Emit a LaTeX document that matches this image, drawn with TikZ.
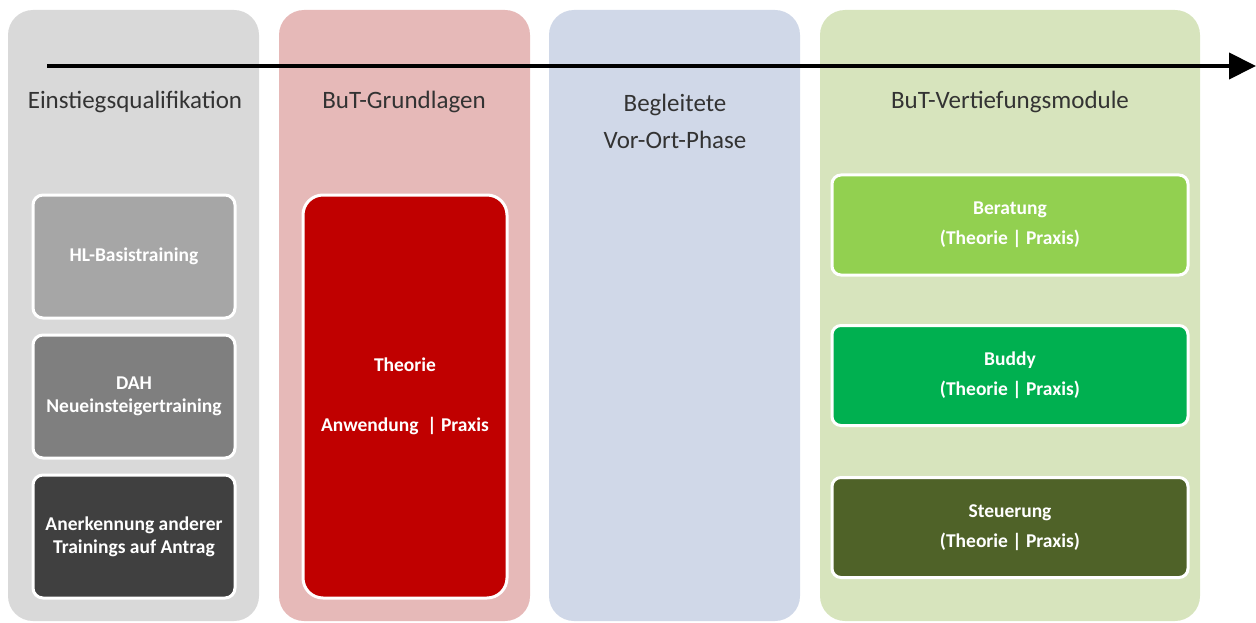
\documentclass[tikz,border=0pt]{standalone}
\usepackage{fontspec}
\setmainfont{Carlito}
\usepackage{tikz}
\usetikzlibrary{arrows.meta}

\definecolor{grauhell}{HTML}{D9D9D9}
\definecolor{rothell}{HTML}{E6B9B8}
\definecolor{blauhell}{HTML}{D0D8E8}
\definecolor{gruenhell}{HTML}{D7E4BD}
\definecolor{grau1}{HTML}{A6A6A6}
\definecolor{grau2}{HTML}{7F7F7F}
\definecolor{grau3}{HTML}{404040}
\definecolor{rotdunkel}{HTML}{C00000}
\definecolor{gruen1}{HTML}{92D050}
\definecolor{gruen2}{HTML}{00B050}
\definecolor{gruen3}{HTML}{4F6228}

\begin{document}
\begin{tikzpicture}[x=1pt, y=-1pt,
  phase/.style = {rounded corners=25pt, minimum height=611pt, inner sep=0pt},
  head/.style = {font=\fontsize{25}{37}\selectfont, text=black!80, align=center},
  modul/.style = {draw=white, line width=3pt, text=white, align=center,
    font=\fontsize{19.5}{23}\selectfont\bfseries, inner sep=0pt},
  modulg/.style = {modul, rounded corners=9pt, minimum width=356pt, minimum height=100pt,
    font=\fontsize{19.5}{30}\selectfont\bfseries}]
\useasboundingbox (0,0) rectangle (1256,623);
% Spalten
\node[phase, fill=grauhell, minimum width=251pt] (s1) at (133.5,315.5) {};
\node[phase, fill=rothell, minimum width=251pt] (s2) at (404.5,315.5) {};
\node[phase, fill=blauhell, minimum width=251pt] (s3) at (674.5,315.5) {};
\node[phase, fill=gruenhell, minimum width=380pt] (s4) at (1010,315.5) {};
% Zeitachse
\coordinate (start) at (47,66);
\coordinate (ende) at (1256,66);
\draw[line width=4pt, -{Triangle[length=27pt, width=26pt]}] (start) -- (ende);
% Ueberschriften
\node[head] (h1) at (135,102) {Einstiegsqualifikation};
\node[head] (h2) at (404,102) {BuT-Grundlagen};
\node[head] (h3) at (675,121) {Begleitete\\Vor-Ort-Phase};
\node[head] (h4) at (1010,102) {BuT-Vertiefungsmodule};
% Einstieg
\node[modul, fill=grau1, rounded corners=10pt, minimum width=202pt, minimum height=123pt] (e1) at (134,256.5) {HL-Basistraining};
\node[modul, fill=grau2, rounded corners=10pt, minimum width=202pt, minimum height=123pt] (e2) at (134,396.5) {DAH\\Neueinsteigertraining};
\node[modul, fill=grau3, rounded corners=10pt, minimum width=202pt, minimum height=123pt] (e3) at (134,536.5) {Anerkennung anderer\\Trainings auf Antrag};
% Grundlagen
\node[modul, fill=rotdunkel, rounded corners=20pt, minimum width=204pt, minimum height=403pt,
  font=\fontsize{19.5}{30}\selectfont\bfseries] (g1) at (405,396.5) {Theorie\\[30pt]Anwendung \ | Praxis};
% Vertiefung
\node[modulg, fill=gruen1] (v1) at (1010,225) {Beratung\\(Theorie | Praxis)};
\node[modulg, fill=gruen2] (v2) at (1010,375.5) {Buddy\\(Theorie | Praxis)};
\node[modulg, fill=gruen3] (v3) at (1010,527.5) {Steuerung\\(Theorie | Praxis)};
\end{tikzpicture}
\end{document}
